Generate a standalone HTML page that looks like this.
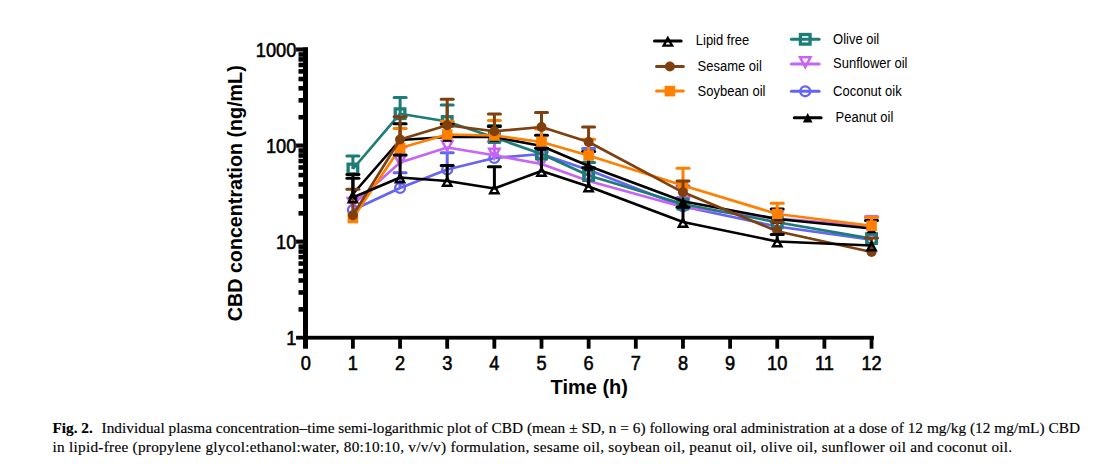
<!DOCTYPE html>
<html><head><meta charset="utf-8"><title>Fig. 2</title>
<style>
html,body{margin:0;padding:0;background:#fff;}
body{width:1100px;height:464px;overflow:hidden;position:relative;}
svg{position:absolute;left:0;top:0;}
.tk{font-family:"Liberation Sans",Arial,sans-serif;font-weight:normal;font-size:19.6px;fill:#000;stroke:#000;stroke-width:0.55px;}
.lg{font-family:"Liberation Sans",Arial,sans-serif;font-size:13.75px;fill:#000;}
.ti{font-family:"Liberation Sans",Arial,sans-serif;font-weight:bold;font-size:20px;fill:#000;}
.cap{font-family:"Liberation Serif","Times New Roman",serif;font-size:15.3px;fill:#000;stroke:#000;stroke-width:0.15px;}
</style></head><body>
<svg width="1100" height="464" viewBox="0 0 1100 464">
<rect width="1100" height="464" fill="#fff"/>
<rect x="303.0" y="47.4" width="5.0" height="301.3" fill="#000"/>
<rect x="296.1" y="335.8" width="577.8" height="3.8" fill="#000"/>
<rect x="296.1" y="47.44" width="11.9" height="4.1" fill="#000"/>
<rect x="296.1" y="143.51" width="11.9" height="4.1" fill="#000"/>
<rect x="296.1" y="239.58" width="11.9" height="4.1" fill="#000"/>
<rect x="298.5" y="307.08" width="5" height="4.6" fill="#000"/>
<rect x="298.5" y="290.16" width="5" height="4.6" fill="#000"/>
<rect x="298.5" y="278.16" width="5" height="4.6" fill="#000"/>
<rect x="298.5" y="268.85" width="5" height="4.6" fill="#000"/>
<rect x="298.5" y="261.24" width="5" height="4.6" fill="#000"/>
<rect x="298.5" y="254.81" width="5" height="4.6" fill="#000"/>
<rect x="298.5" y="249.24" width="5" height="4.6" fill="#000"/>
<rect x="298.5" y="244.33" width="5" height="4.6" fill="#000"/>
<rect x="298.5" y="211.01" width="5" height="4.6" fill="#000"/>
<rect x="298.5" y="194.09" width="5" height="4.6" fill="#000"/>
<rect x="298.5" y="182.09" width="5" height="4.6" fill="#000"/>
<rect x="298.5" y="172.78" width="5" height="4.6" fill="#000"/>
<rect x="298.5" y="165.17" width="5" height="4.6" fill="#000"/>
<rect x="298.5" y="158.74" width="5" height="4.6" fill="#000"/>
<rect x="298.5" y="153.17" width="5" height="4.6" fill="#000"/>
<rect x="298.5" y="148.26" width="5" height="4.6" fill="#000"/>
<rect x="298.5" y="114.94" width="5" height="4.6" fill="#000"/>
<rect x="298.5" y="98.02" width="5" height="4.6" fill="#000"/>
<rect x="298.5" y="86.02" width="5" height="4.6" fill="#000"/>
<rect x="298.5" y="76.71" width="5" height="4.6" fill="#000"/>
<rect x="298.5" y="69.10" width="5" height="4.6" fill="#000"/>
<rect x="298.5" y="62.67" width="5" height="4.6" fill="#000"/>
<rect x="298.5" y="57.10" width="5" height="4.6" fill="#000"/>
<rect x="298.5" y="52.19" width="5" height="4.6" fill="#000"/>
<rect x="351.00" y="338" width="3.8" height="10.7" fill="#000"/>
<rect x="398.15" y="338" width="3.8" height="10.7" fill="#000"/>
<rect x="445.30" y="338" width="3.8" height="10.7" fill="#000"/>
<rect x="492.45" y="338" width="3.8" height="10.7" fill="#000"/>
<rect x="539.60" y="338" width="3.8" height="10.7" fill="#000"/>
<rect x="586.75" y="338" width="3.8" height="10.7" fill="#000"/>
<rect x="633.90" y="338" width="3.8" height="10.7" fill="#000"/>
<rect x="681.05" y="338" width="3.8" height="10.7" fill="#000"/>
<rect x="728.20" y="338" width="3.8" height="10.7" fill="#000"/>
<rect x="775.35" y="338" width="3.8" height="10.7" fill="#000"/>
<rect x="822.50" y="338" width="3.8" height="10.7" fill="#000"/>
<rect x="869.65" y="338" width="3.8" height="10.7" fill="#000"/>
<text transform="translate(296.3,56.69) scale(0.93,1)" text-anchor="end" class="tk">1000</text>
<text transform="translate(296.3,152.76) scale(0.93,1)" text-anchor="end" class="tk">100</text>
<text transform="translate(296.3,248.83) scale(0.93,1)" text-anchor="end" class="tk">10</text>
<text transform="translate(296.3,344.90) scale(0.93,1)" text-anchor="end" class="tk">1</text>
<text transform="translate(305.75,370.4) scale(0.93,1)" text-anchor="middle" class="tk">0</text>
<text transform="translate(352.90,370.4) scale(0.93,1)" text-anchor="middle" class="tk">1</text>
<text transform="translate(400.05,370.4) scale(0.93,1)" text-anchor="middle" class="tk">2</text>
<text transform="translate(447.20,370.4) scale(0.93,1)" text-anchor="middle" class="tk">3</text>
<text transform="translate(494.35,370.4) scale(0.93,1)" text-anchor="middle" class="tk">4</text>
<text transform="translate(541.50,370.4) scale(0.93,1)" text-anchor="middle" class="tk">5</text>
<text transform="translate(588.65,370.4) scale(0.93,1)" text-anchor="middle" class="tk">6</text>
<text transform="translate(635.80,370.4) scale(0.93,1)" text-anchor="middle" class="tk">7</text>
<text transform="translate(682.95,370.4) scale(0.93,1)" text-anchor="middle" class="tk">8</text>
<text transform="translate(730.10,370.4) scale(0.93,1)" text-anchor="middle" class="tk">9</text>
<text transform="translate(777.25,370.4) scale(0.93,1)" text-anchor="middle" class="tk">10</text>
<text transform="translate(824.40,370.4) scale(0.93,1)" text-anchor="middle" class="tk">11</text>
<text transform="translate(871.55,370.4) scale(0.93,1)" text-anchor="middle" class="tk">12</text>
<text class="ti" transform="translate(241.8,321.2) rotate(-90)" textLength="255.9" lengthAdjust="spacingAndGlyphs">CBD concentration (ng/mL)</text>
<text class="ti" transform="translate(550.6,394.4) scale(0.965,1)" style="font-size:20.7px">Time (h)</text>
<g>
<line x1="400.1" y1="188.0" x2="400.1" y2="172.8" stroke="#6464f5" stroke-width="3"/>
<line x1="394.1" y1="172.8" x2="406.1" y2="172.8" stroke="#6464f5" stroke-width="3" stroke-linecap="round"/>
<line x1="447.2" y1="169.5" x2="447.2" y2="152.7" stroke="#6464f5" stroke-width="3"/>
<line x1="441.2" y1="152.7" x2="453.2" y2="152.7" stroke="#6464f5" stroke-width="3" stroke-linecap="round"/>
<line x1="588.6" y1="170.0" x2="588.6" y2="148.6" stroke="#6464f5" stroke-width="3"/>
<line x1="582.6" y1="148.6" x2="594.6" y2="148.6" stroke="#6464f5" stroke-width="3" stroke-linecap="round"/>
<line x1="683.0" y1="206.5" x2="683.0" y2="186.0" stroke="#6464f5" stroke-width="3"/>
<line x1="677.0" y1="186.0" x2="689.0" y2="186.0" stroke="#6464f5" stroke-width="3" stroke-linecap="round"/>
<polyline points="352.9,210.0 400.1,188.0 447.2,169.5 494.4,158.0 541.5,154.0 588.6,170.0 683.0,206.5 777.2,226.5 871.5,239.6" fill="none" stroke="#6464f5" stroke-width="2.65" stroke-linejoin="round"/>
<circle cx="352.90" cy="210.00" r="4.9" fill="none" stroke="#6464f5" stroke-width="2.4"/>
<circle cx="400.05" cy="188.00" r="4.9" fill="none" stroke="#6464f5" stroke-width="2.4"/>
<circle cx="447.20" cy="169.50" r="4.9" fill="none" stroke="#6464f5" stroke-width="2.4"/>
<circle cx="494.35" cy="158.00" r="4.9" fill="none" stroke="#6464f5" stroke-width="2.4"/>
<circle cx="541.50" cy="154.00" r="4.9" fill="none" stroke="#6464f5" stroke-width="2.4"/>
<circle cx="588.65" cy="170.00" r="4.9" fill="none" stroke="#6464f5" stroke-width="2.4"/>
<circle cx="682.95" cy="206.50" r="4.9" fill="none" stroke="#6464f5" stroke-width="2.4"/>
<circle cx="777.25" cy="226.50" r="4.9" fill="none" stroke="#6464f5" stroke-width="2.4"/>
<circle cx="871.55" cy="239.60" r="4.9" fill="none" stroke="#6464f5" stroke-width="2.4"/>
</g>
<g>
<line x1="400.1" y1="162.5" x2="400.1" y2="146.9" stroke="#c864f5" stroke-width="3"/>
<line x1="394.1" y1="146.9" x2="406.1" y2="146.9" stroke="#c864f5" stroke-width="3" stroke-linecap="round"/>
<line x1="494.4" y1="155.3" x2="494.4" y2="141.5" stroke="#c864f5" stroke-width="3"/>
<line x1="488.4" y1="141.5" x2="500.4" y2="141.5" stroke="#c864f5" stroke-width="3" stroke-linecap="round"/>
<line x1="541.5" y1="164.0" x2="541.5" y2="152.0" stroke="#c864f5" stroke-width="3"/>
<line x1="535.5" y1="152.0" x2="547.5" y2="152.0" stroke="#c864f5" stroke-width="3" stroke-linecap="round"/>
<line x1="683.0" y1="207.0" x2="683.0" y2="197.5" stroke="#c864f5" stroke-width="3"/>
<line x1="677.0" y1="197.5" x2="689.0" y2="197.5" stroke="#c864f5" stroke-width="3" stroke-linecap="round"/>
<line x1="871.5" y1="226.0" x2="871.5" y2="216.5" stroke="#c864f5" stroke-width="3"/>
<line x1="865.5" y1="216.5" x2="877.5" y2="216.5" stroke="#c864f5" stroke-width="3" stroke-linecap="round"/>
<polyline points="352.9,204.5 400.1,162.5 447.2,147.5 494.4,155.3 541.5,164.0 588.6,181.0 683.0,207.0 777.2,218.5 871.5,226.0" fill="none" stroke="#c864f5" stroke-width="2.65" stroke-linejoin="round"/>
<path d="M347.70,197.95 L358.10,197.95 L352.90,207.70Z" fill="none" stroke="#c864f5" stroke-width="2.5" stroke-miterlimit="10"/>
<path d="M394.85,155.95 L405.25,155.95 L400.05,165.70Z" fill="none" stroke="#c864f5" stroke-width="2.5" stroke-miterlimit="10"/>
<path d="M442.00,140.95 L452.40,140.95 L447.20,150.70Z" fill="none" stroke="#c864f5" stroke-width="2.5" stroke-miterlimit="10"/>
<path d="M489.15,148.75 L499.55,148.75 L494.35,158.50Z" fill="none" stroke="#c864f5" stroke-width="2.5" stroke-miterlimit="10"/>
<path d="M536.30,157.45 L546.70,157.45 L541.50,167.20Z" fill="none" stroke="#c864f5" stroke-width="2.5" stroke-miterlimit="10"/>
<path d="M583.45,174.45 L593.85,174.45 L588.65,184.20Z" fill="none" stroke="#c864f5" stroke-width="2.5" stroke-miterlimit="10"/>
<path d="M677.75,200.45 L688.15,200.45 L682.95,210.20Z" fill="none" stroke="#c864f5" stroke-width="2.5" stroke-miterlimit="10"/>
<path d="M772.05,211.95 L782.45,211.95 L777.25,221.70Z" fill="none" stroke="#c864f5" stroke-width="2.5" stroke-miterlimit="10"/>
<path d="M866.35,219.45 L876.75,219.45 L871.55,229.20Z" fill="none" stroke="#c864f5" stroke-width="2.5" stroke-miterlimit="10"/>
</g>
<g>
<line x1="352.9" y1="169.0" x2="352.9" y2="156.0" stroke="#1b7c78" stroke-width="3"/>
<line x1="346.9" y1="156.0" x2="358.9" y2="156.0" stroke="#1b7c78" stroke-width="3" stroke-linecap="round"/>
<line x1="400.1" y1="113.7" x2="400.1" y2="97.6" stroke="#1b7c78" stroke-width="3"/>
<line x1="394.1" y1="97.6" x2="406.1" y2="97.6" stroke="#1b7c78" stroke-width="3" stroke-linecap="round"/>
<line x1="447.2" y1="121.5" x2="447.2" y2="105.1" stroke="#1b7c78" stroke-width="3"/>
<line x1="441.2" y1="105.1" x2="453.2" y2="105.1" stroke="#1b7c78" stroke-width="3" stroke-linecap="round"/>
<line x1="494.4" y1="137.5" x2="494.4" y2="125.4" stroke="#1b7c78" stroke-width="3"/>
<line x1="488.4" y1="125.4" x2="500.4" y2="125.4" stroke="#1b7c78" stroke-width="3" stroke-linecap="round"/>
<line x1="588.6" y1="175.5" x2="588.6" y2="162.5" stroke="#1b7c78" stroke-width="3"/>
<line x1="582.6" y1="162.5" x2="594.6" y2="162.5" stroke="#1b7c78" stroke-width="3" stroke-linecap="round"/>
<polyline points="352.9,169.0 400.1,113.7 447.2,121.5 494.4,137.5 541.5,154.0 588.6,175.5 683.0,204.0 777.2,222.3 871.5,238.6" fill="none" stroke="#1b7c78" stroke-width="2.65" stroke-linejoin="round"/>
<rect x="348.10" y="164.20" width="9.6" height="9.6" fill="none" stroke="#1b7c78" stroke-width="3.3"/>
<rect x="395.25" y="108.90" width="9.6" height="9.6" fill="none" stroke="#1b7c78" stroke-width="3.3"/>
<rect x="442.40" y="116.70" width="9.6" height="9.6" fill="none" stroke="#1b7c78" stroke-width="3.3"/>
<rect x="489.55" y="132.70" width="9.6" height="9.6" fill="none" stroke="#1b7c78" stroke-width="3.3"/>
<rect x="536.70" y="149.20" width="9.6" height="9.6" fill="none" stroke="#1b7c78" stroke-width="3.3"/>
<rect x="583.85" y="170.70" width="9.6" height="9.6" fill="none" stroke="#1b7c78" stroke-width="3.3"/>
<rect x="678.15" y="199.20" width="9.6" height="9.6" fill="none" stroke="#1b7c78" stroke-width="3.3"/>
<rect x="772.45" y="217.50" width="9.6" height="9.6" fill="none" stroke="#1b7c78" stroke-width="3.3"/>
<rect x="866.75" y="233.80" width="9.6" height="9.6" fill="none" stroke="#1b7c78" stroke-width="3.3"/>
</g>
<g>
<line x1="352.9" y1="194.0" x2="352.9" y2="178.2" stroke="#000000" stroke-width="3"/>
<line x1="346.9" y1="178.2" x2="358.9" y2="178.2" stroke="#000000" stroke-width="3" stroke-linecap="round"/>
<line x1="400.1" y1="140.0" x2="400.1" y2="123.8" stroke="#000000" stroke-width="3"/>
<line x1="394.1" y1="123.8" x2="406.1" y2="123.8" stroke="#000000" stroke-width="3" stroke-linecap="round"/>
<line x1="447.2" y1="137.0" x2="447.2" y2="124.0" stroke="#000000" stroke-width="3"/>
<line x1="441.2" y1="124.0" x2="453.2" y2="124.0" stroke="#000000" stroke-width="3" stroke-linecap="round"/>
<line x1="494.4" y1="137.0" x2="494.4" y2="126.5" stroke="#000000" stroke-width="3"/>
<line x1="488.4" y1="126.5" x2="500.4" y2="126.5" stroke="#000000" stroke-width="3" stroke-linecap="round"/>
<line x1="541.5" y1="146.0" x2="541.5" y2="135.3" stroke="#000000" stroke-width="3"/>
<line x1="535.5" y1="135.3" x2="547.5" y2="135.3" stroke="#000000" stroke-width="3" stroke-linecap="round"/>
<line x1="588.6" y1="166.0" x2="588.6" y2="151.5" stroke="#000000" stroke-width="3"/>
<line x1="582.6" y1="151.5" x2="594.6" y2="151.5" stroke="#000000" stroke-width="3" stroke-linecap="round"/>
<line x1="777.2" y1="219.0" x2="777.2" y2="209.0" stroke="#000000" stroke-width="3"/>
<line x1="771.2" y1="209.0" x2="783.2" y2="209.0" stroke="#000000" stroke-width="3" stroke-linecap="round"/>
<line x1="871.5" y1="228.5" x2="871.5" y2="220.5" stroke="#000000" stroke-width="3"/>
<line x1="865.5" y1="220.5" x2="877.5" y2="220.5" stroke="#000000" stroke-width="3" stroke-linecap="round"/>
<polyline points="352.9,194.0 400.1,140.0 447.2,137.0 494.4,137.0 541.5,146.0 588.6,166.0 683.0,201.3 777.2,219.0 871.5,228.5" fill="none" stroke="#000000" stroke-width="2.65" stroke-linejoin="round"/>
<path d="M352.90,189.20 L357.70,198.80 L348.10,198.80Z" fill="#000000"/>
<path d="M400.05,135.20 L404.85,144.80 L395.25,144.80Z" fill="#000000"/>
<path d="M447.20,132.20 L452.00,141.80 L442.40,141.80Z" fill="#000000"/>
<path d="M494.35,132.20 L499.15,141.80 L489.55,141.80Z" fill="#000000"/>
<path d="M541.50,141.20 L546.30,150.80 L536.70,150.80Z" fill="#000000"/>
<path d="M588.65,161.20 L593.45,170.80 L583.85,170.80Z" fill="#000000"/>
<path d="M682.95,196.50 L687.75,206.10 L678.15,206.10Z" fill="#000000"/>
<path d="M777.25,214.20 L782.05,223.80 L772.45,223.80Z" fill="#000000"/>
<path d="M871.55,223.70 L876.35,233.30 L866.75,233.30Z" fill="#000000"/>
</g>
<g>
<line x1="400.1" y1="148.0" x2="400.1" y2="128.6" stroke="#ff8000" stroke-width="3"/>
<line x1="394.1" y1="128.6" x2="406.1" y2="128.6" stroke="#ff8000" stroke-width="3" stroke-linecap="round"/>
<line x1="447.2" y1="134.5" x2="447.2" y2="121.2" stroke="#ff8000" stroke-width="3"/>
<line x1="441.2" y1="121.2" x2="453.2" y2="121.2" stroke="#ff8000" stroke-width="3" stroke-linecap="round"/>
<line x1="494.4" y1="135.5" x2="494.4" y2="120.4" stroke="#ff8000" stroke-width="3"/>
<line x1="488.4" y1="120.4" x2="500.4" y2="120.4" stroke="#ff8000" stroke-width="3" stroke-linecap="round"/>
<line x1="541.5" y1="142.0" x2="541.5" y2="129.0" stroke="#ff8000" stroke-width="3"/>
<line x1="535.5" y1="129.0" x2="547.5" y2="129.0" stroke="#ff8000" stroke-width="3" stroke-linecap="round"/>
<line x1="588.6" y1="155.5" x2="588.6" y2="139.3" stroke="#ff8000" stroke-width="3"/>
<line x1="582.6" y1="139.3" x2="594.6" y2="139.3" stroke="#ff8000" stroke-width="3" stroke-linecap="round"/>
<line x1="683.0" y1="185.5" x2="683.0" y2="168.3" stroke="#ff8000" stroke-width="3"/>
<line x1="677.0" y1="168.3" x2="689.0" y2="168.3" stroke="#ff8000" stroke-width="3" stroke-linecap="round"/>
<line x1="777.2" y1="214.0" x2="777.2" y2="203.3" stroke="#ff8000" stroke-width="3"/>
<line x1="771.2" y1="203.3" x2="783.2" y2="203.3" stroke="#ff8000" stroke-width="3" stroke-linecap="round"/>
<line x1="871.5" y1="225.8" x2="871.5" y2="217.3" stroke="#ff8000" stroke-width="3"/>
<line x1="865.5" y1="217.3" x2="877.5" y2="217.3" stroke="#ff8000" stroke-width="3" stroke-linecap="round"/>
<polyline points="352.9,218.0 400.1,148.0 447.2,134.5 494.4,135.5 541.5,142.0 588.6,155.5 683.0,185.5 777.2,214.0 871.5,225.8" fill="none" stroke="#ff8000" stroke-width="2.65" stroke-linejoin="round"/>
<rect x="347.60" y="212.70" width="10.6" height="10.6" fill="#ff8000"/>
<rect x="394.75" y="142.70" width="10.6" height="10.6" fill="#ff8000"/>
<rect x="441.90" y="129.20" width="10.6" height="10.6" fill="#ff8000"/>
<rect x="489.05" y="130.20" width="10.6" height="10.6" fill="#ff8000"/>
<rect x="536.20" y="136.70" width="10.6" height="10.6" fill="#ff8000"/>
<rect x="583.35" y="150.20" width="10.6" height="10.6" fill="#ff8000"/>
<rect x="677.65" y="180.20" width="10.6" height="10.6" fill="#ff8000"/>
<rect x="771.95" y="208.70" width="10.6" height="10.6" fill="#ff8000"/>
<rect x="866.25" y="220.50" width="10.6" height="10.6" fill="#ff8000"/>
</g>
<g>
<line x1="352.9" y1="215.2" x2="352.9" y2="189.3" stroke="#7f3f0f" stroke-width="3"/>
<line x1="346.9" y1="189.3" x2="358.9" y2="189.3" stroke="#7f3f0f" stroke-width="3" stroke-linecap="round"/>
<line x1="400.1" y1="139.5" x2="400.1" y2="116.7" stroke="#7f3f0f" stroke-width="3"/>
<line x1="394.1" y1="116.7" x2="406.1" y2="116.7" stroke="#7f3f0f" stroke-width="3" stroke-linecap="round"/>
<line x1="447.2" y1="125.2" x2="447.2" y2="99.3" stroke="#7f3f0f" stroke-width="3"/>
<line x1="441.2" y1="99.3" x2="453.2" y2="99.3" stroke="#7f3f0f" stroke-width="3" stroke-linecap="round"/>
<line x1="494.4" y1="131.3" x2="494.4" y2="113.9" stroke="#7f3f0f" stroke-width="3"/>
<line x1="488.4" y1="113.9" x2="500.4" y2="113.9" stroke="#7f3f0f" stroke-width="3" stroke-linecap="round"/>
<line x1="541.5" y1="127.0" x2="541.5" y2="112.5" stroke="#7f3f0f" stroke-width="3"/>
<line x1="535.5" y1="112.5" x2="547.5" y2="112.5" stroke="#7f3f0f" stroke-width="3" stroke-linecap="round"/>
<line x1="588.6" y1="142.0" x2="588.6" y2="126.9" stroke="#7f3f0f" stroke-width="3"/>
<line x1="582.6" y1="126.9" x2="594.6" y2="126.9" stroke="#7f3f0f" stroke-width="3" stroke-linecap="round"/>
<line x1="683.0" y1="192.3" x2="683.0" y2="181.1" stroke="#7f3f0f" stroke-width="3"/>
<line x1="677.0" y1="181.1" x2="689.0" y2="181.1" stroke="#7f3f0f" stroke-width="3" stroke-linecap="round"/>
<line x1="777.2" y1="231.2" x2="777.2" y2="222.0" stroke="#7f3f0f" stroke-width="3"/>
<line x1="771.2" y1="222.0" x2="783.2" y2="222.0" stroke="#7f3f0f" stroke-width="3" stroke-linecap="round"/>
<line x1="871.5" y1="252.0" x2="871.5" y2="238.0" stroke="#7f3f0f" stroke-width="3"/>
<line x1="865.5" y1="238.0" x2="877.5" y2="238.0" stroke="#7f3f0f" stroke-width="3" stroke-linecap="round"/>
<polyline points="352.9,215.2 400.1,139.5 447.2,125.2 494.4,131.3 541.5,127.0 588.6,142.0 683.0,192.3 777.2,231.2 871.5,252.0" fill="none" stroke="#7f3f0f" stroke-width="2.65" stroke-linejoin="round"/>
<circle cx="352.90" cy="215.20" r="5" fill="#7f3f0f"/>
<circle cx="400.05" cy="139.50" r="5" fill="#7f3f0f"/>
<circle cx="447.20" cy="125.20" r="5" fill="#7f3f0f"/>
<circle cx="494.35" cy="131.30" r="5" fill="#7f3f0f"/>
<circle cx="541.50" cy="127.00" r="5" fill="#7f3f0f"/>
<circle cx="588.65" cy="142.00" r="5" fill="#7f3f0f"/>
<circle cx="682.95" cy="192.30" r="5" fill="#7f3f0f"/>
<circle cx="777.25" cy="231.20" r="5" fill="#7f3f0f"/>
<circle cx="871.55" cy="252.00" r="5" fill="#7f3f0f"/>
</g>
<g>
<line x1="352.9" y1="197.5" x2="352.9" y2="174.4" stroke="#000000" stroke-width="3"/>
<line x1="346.9" y1="174.4" x2="358.9" y2="174.4" stroke="#000000" stroke-width="3" stroke-linecap="round"/>
<line x1="400.1" y1="177.5" x2="400.1" y2="155.0" stroke="#000000" stroke-width="3"/>
<line x1="394.1" y1="155.0" x2="406.1" y2="155.0" stroke="#000000" stroke-width="3" stroke-linecap="round"/>
<line x1="447.2" y1="181.0" x2="447.2" y2="165.6" stroke="#000000" stroke-width="3"/>
<line x1="441.2" y1="165.6" x2="453.2" y2="165.6" stroke="#000000" stroke-width="3" stroke-linecap="round"/>
<line x1="494.4" y1="188.5" x2="494.4" y2="166.8" stroke="#000000" stroke-width="3"/>
<line x1="488.4" y1="166.8" x2="500.4" y2="166.8" stroke="#000000" stroke-width="3" stroke-linecap="round"/>
<line x1="541.5" y1="171.0" x2="541.5" y2="148.3" stroke="#000000" stroke-width="3"/>
<line x1="535.5" y1="148.3" x2="547.5" y2="148.3" stroke="#000000" stroke-width="3" stroke-linecap="round"/>
<line x1="588.6" y1="186.5" x2="588.6" y2="167.8" stroke="#000000" stroke-width="3"/>
<line x1="582.6" y1="167.8" x2="594.6" y2="167.8" stroke="#000000" stroke-width="3" stroke-linecap="round"/>
<line x1="683.0" y1="222.0" x2="683.0" y2="207.3" stroke="#000000" stroke-width="3"/>
<line x1="677.0" y1="207.3" x2="689.0" y2="207.3" stroke="#000000" stroke-width="3" stroke-linecap="round"/>
<line x1="777.2" y1="241.5" x2="777.2" y2="234.5" stroke="#000000" stroke-width="3"/>
<line x1="771.2" y1="234.5" x2="783.2" y2="234.5" stroke="#000000" stroke-width="3" stroke-linecap="round"/>
<polyline points="352.9,197.5 400.1,177.5 447.2,181.0 494.4,188.5 541.5,171.0 588.6,186.5 683.0,222.0 777.2,241.5 871.5,245.5" fill="none" stroke="#000000" stroke-width="2.65" stroke-linejoin="round"/>
<path d="M352.90,194.60 L357.10,202.20 L348.70,202.20Z" fill="none" stroke="#000000" stroke-width="2.4" stroke-linejoin="miter" stroke-miterlimit="10"/>
<path d="M400.05,174.60 L404.25,182.20 L395.85,182.20Z" fill="none" stroke="#000000" stroke-width="2.4" stroke-linejoin="miter" stroke-miterlimit="10"/>
<path d="M447.20,178.10 L451.40,185.70 L443.00,185.70Z" fill="none" stroke="#000000" stroke-width="2.4" stroke-linejoin="miter" stroke-miterlimit="10"/>
<path d="M494.35,185.60 L498.55,193.20 L490.15,193.20Z" fill="none" stroke="#000000" stroke-width="2.4" stroke-linejoin="miter" stroke-miterlimit="10"/>
<path d="M541.50,168.10 L545.70,175.70 L537.30,175.70Z" fill="none" stroke="#000000" stroke-width="2.4" stroke-linejoin="miter" stroke-miterlimit="10"/>
<path d="M588.65,183.60 L592.85,191.20 L584.45,191.20Z" fill="none" stroke="#000000" stroke-width="2.4" stroke-linejoin="miter" stroke-miterlimit="10"/>
<path d="M682.95,219.10 L687.15,226.70 L678.75,226.70Z" fill="none" stroke="#000000" stroke-width="2.4" stroke-linejoin="miter" stroke-miterlimit="10"/>
<path d="M777.25,238.60 L781.45,246.20 L773.05,246.20Z" fill="none" stroke="#000000" stroke-width="2.4" stroke-linejoin="miter" stroke-miterlimit="10"/>
<path d="M871.55,242.60 L875.75,250.20 L867.35,250.20Z" fill="none" stroke="#000000" stroke-width="2.4" stroke-linejoin="miter" stroke-miterlimit="10"/>
</g>
<line x1="654.5" y1="40.9" x2="681.1999999999999" y2="40.9" stroke="#000000" stroke-width="3" stroke-linecap="round"/>
<path d="M667.85,38.00 L672.05,45.60 L663.65,45.60Z" fill="none" stroke="#000000" stroke-width="2.4" stroke-linejoin="miter" stroke-miterlimit="10"/>
<text transform="translate(695.8,45.3) scale(0.945,1)" class="lg">Lipid free</text>
<line x1="656.5" y1="66.5" x2="683.3" y2="66.5" stroke="#7f3f0f" stroke-width="3" stroke-linecap="round"/>
<circle cx="669.90" cy="66.50" r="5" fill="#7f3f0f"/>
<text transform="translate(697.6,70.9) scale(0.945,1)" class="lg">Sesame oil</text>
<line x1="656.5" y1="91.1" x2="683.3" y2="91.1" stroke="#ff8000" stroke-width="3" stroke-linecap="round"/>
<rect x="664.60" y="85.80" width="10.6" height="10.6" fill="#ff8000"/>
<text transform="translate(697.6,95.5) scale(0.945,1)" class="lg">Soybean oil</text>
<line x1="791.4000000000001" y1="39.3" x2="819.0999999999999" y2="39.3" stroke="#1b7c78" stroke-width="3" stroke-linecap="round"/>
<rect x="800.45" y="34.50" width="9.6" height="9.6" fill="none" stroke="#1b7c78" stroke-width="3.3"/>
<text transform="translate(833.1,43.7) scale(0.945,1)" class="lg">Olive oil</text>
<line x1="791.4000000000001" y1="63.9" x2="819.0999999999999" y2="63.9" stroke="#c864f5" stroke-width="3" stroke-linecap="round"/>
<path d="M800.05,57.35 L810.45,57.35 L805.25,67.10Z" fill="none" stroke="#c864f5" stroke-width="2.5" stroke-miterlimit="10"/>
<text transform="translate(833.1,68.3) scale(0.945,1)" class="lg">Sunflower oil</text>
<line x1="791.4000000000001" y1="91.3" x2="819.0999999999999" y2="91.3" stroke="#6464f5" stroke-width="3" stroke-linecap="round"/>
<circle cx="805.25" cy="91.30" r="4.9" fill="none" stroke="#6464f5" stroke-width="2.4"/>
<text transform="translate(833.1,95.7) scale(0.945,1)" class="lg">Coconut oik</text>
<line x1="794.3000000000001" y1="117.8" x2="821.0999999999999" y2="117.8" stroke="#000000" stroke-width="3" stroke-linecap="round"/>
<path d="M807.70,113.00 L812.50,122.60 L802.90,122.60Z" fill="#000000"/>
<text transform="translate(835.6,122.2) scale(0.945,1)" class="lg">Peanut oil</text>
<text class="cap" y="432.9"><tspan x="52.4" font-weight="bold">Fig. 2.</tspan><tspan x="101.5" textLength="978.5" lengthAdjust="spacing">Individual plasma concentration–time semi-logarithmic plot of CBD (mean ± SD, n = 6) following oral administration at a dose of 12 mg/kg (12 mg/mL) CBD</tspan></text>
<text class="cap" x="52.6" y="451.6" textLength="959.5" lengthAdjust="spacing">in lipid-free (propylene glycol:ethanol:water, 80:10:10, v/v/v) formulation, sesame oil, soybean oil, peanut oil, olive oil, sunflower oil and coconut oil.</text>
</svg>
</body></html>
